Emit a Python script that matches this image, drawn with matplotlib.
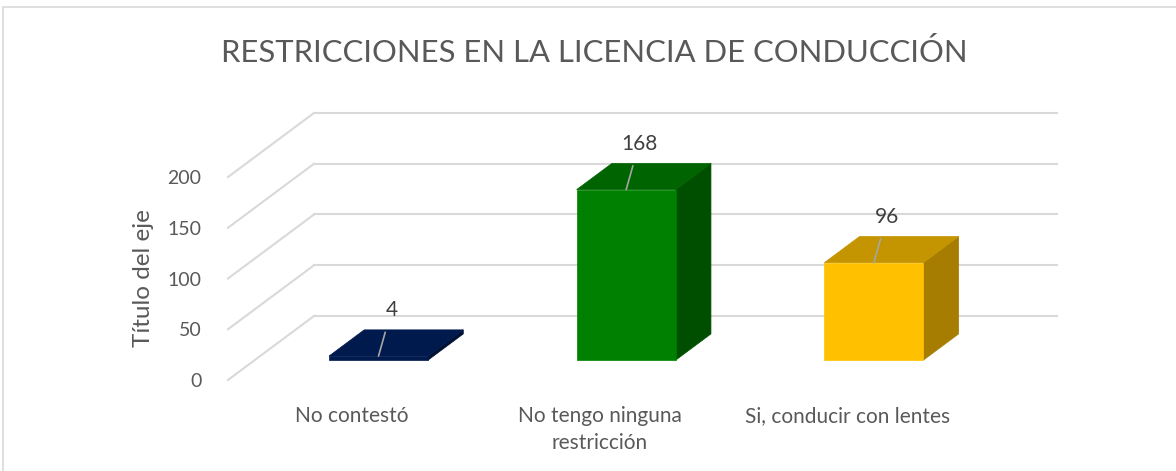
import matplotlib.pyplot as plt
from matplotlib.patches import Polygon

# data
categories = ['No contestó', 'No tengo ninguna\nrestricción', 'Si, conducir con lentes']
values = [4, 168, 96]
front_colors = ['#001A4D', '#008000', '#FFC000']
top_colors = ['#001A4D', '#006400', '#C49500']
side_colors = ['#001233', '#004F00', '#A67D00']
grid_levels = [0, 50, 100, 150, 200]

plt.rcParams['font.family'] = ['Lato', 'DejaVu Sans']
TXT = '#595959'

W, H = 1176, 471
fig = plt.figure(figsize=(W / 100, H / 100), dpi=100)
# axes = front plane of the floor: x 0..3 categories, y 0..200
ax = fig.add_axes([228 / W, 91 / H, 743 / W, 203 / H])
ax.set_xlim(0, 3)
ax.set_ylim(0, 200)

# depth vector (full depth), in data units
px_x = 3 / 743
px_y = 200 / 203
DX = 86 * px_x
DY = 64 * px_y
D0, D1 = 0.31, 0.72       # bar front / back depth fraction
BW = 0.4                  # bar width

# border of chart area (only top and left edges fall inside the picture)
fig.patches.append(plt.Rectangle((3 / W, -0.5), 2, 1.5 - 7 / H, transform=fig.transFigure,
                                 fill=False, edgecolor='#D9D9D9', lw=1.2))

# gridlines: left wall diagonals + back wall
for g in grid_levels:
    ax.plot([0, DX], [g, g + DY], color='#D9D9D9', lw=1.5, clip_on=False, zorder=1)
    ax.plot([DX, 3 + DX], [g + DY, g + DY], color='#D9D9D9', lw=1.5, clip_on=False, zorder=1)

for i, v in enumerate(values):
    c = i + 0.5
    x0, x1 = c - BW / 2, c + BW / 2
    fx, fy = D0 * DX, D0 * DY
    bx, by = D1 * DX, D1 * DY
    front = [(x0 + fx, fy), (x1 + fx, fy), (x1 + fx, fy + v), (x0 + fx, fy + v)]
    top = [(x0 + fx, fy + v), (x1 + fx, fy + v), (x1 + bx, by + v), (x0 + bx, by + v)]
    side = [(x1 + fx, fy), (x1 + bx, by), (x1 + bx, by + v), (x1 + fx, fy + v)]
    for poly, col in [(side, side_colors[i]), (top, top_colors[i]), (front, front_colors[i])]:
        ax.add_patch(Polygon(poly, closed=True, facecolor=col, edgecolor=col, lw=0.5,
                             clip_on=False, zorder=3))
    # data label with leader line
    ax.annotate(str(v), xy=(c + fx, fy + v), xytext=(13, 46), textcoords='offset pixels',
                ha='center', va='center', fontsize=15, color='#404040',
                arrowprops=dict(arrowstyle='-', color='#A6A6A6', lw=1.2, shrinkA=7, shrinkB=0),
                zorder=5, annotation_clip=False)

ax.set_xticks([i + 0.5 for i in range(len(categories))])
ax.set_xticklabels(categories, fontsize=15, color=TXT, linespacing=1.4)
ax.set_yticks(grid_levels)
ax.set_yticklabels([str(g) for g in grid_levels], fontsize=14, color=TXT)
ax.tick_params(axis='x', length=0, pad=19)
ax.tick_params(axis='y', length=0, pad=19)
for s in ax.spines.values():
    s.set_visible(False)
ax.patch.set_visible(False)

ax.set_ylabel('Título del eje', fontsize=17.5, color=TXT, labelpad=10)

fig.text(594 / W, 1 - 52 / H, 'RESTRICCIONES EN LA LICENCIA DE CONDUCCIÓN', ha='center', va='center',
         fontsize=22.3, color=TXT, fontweight='normal')

fig.savefig('out.png', dpi=100, facecolor='white')
